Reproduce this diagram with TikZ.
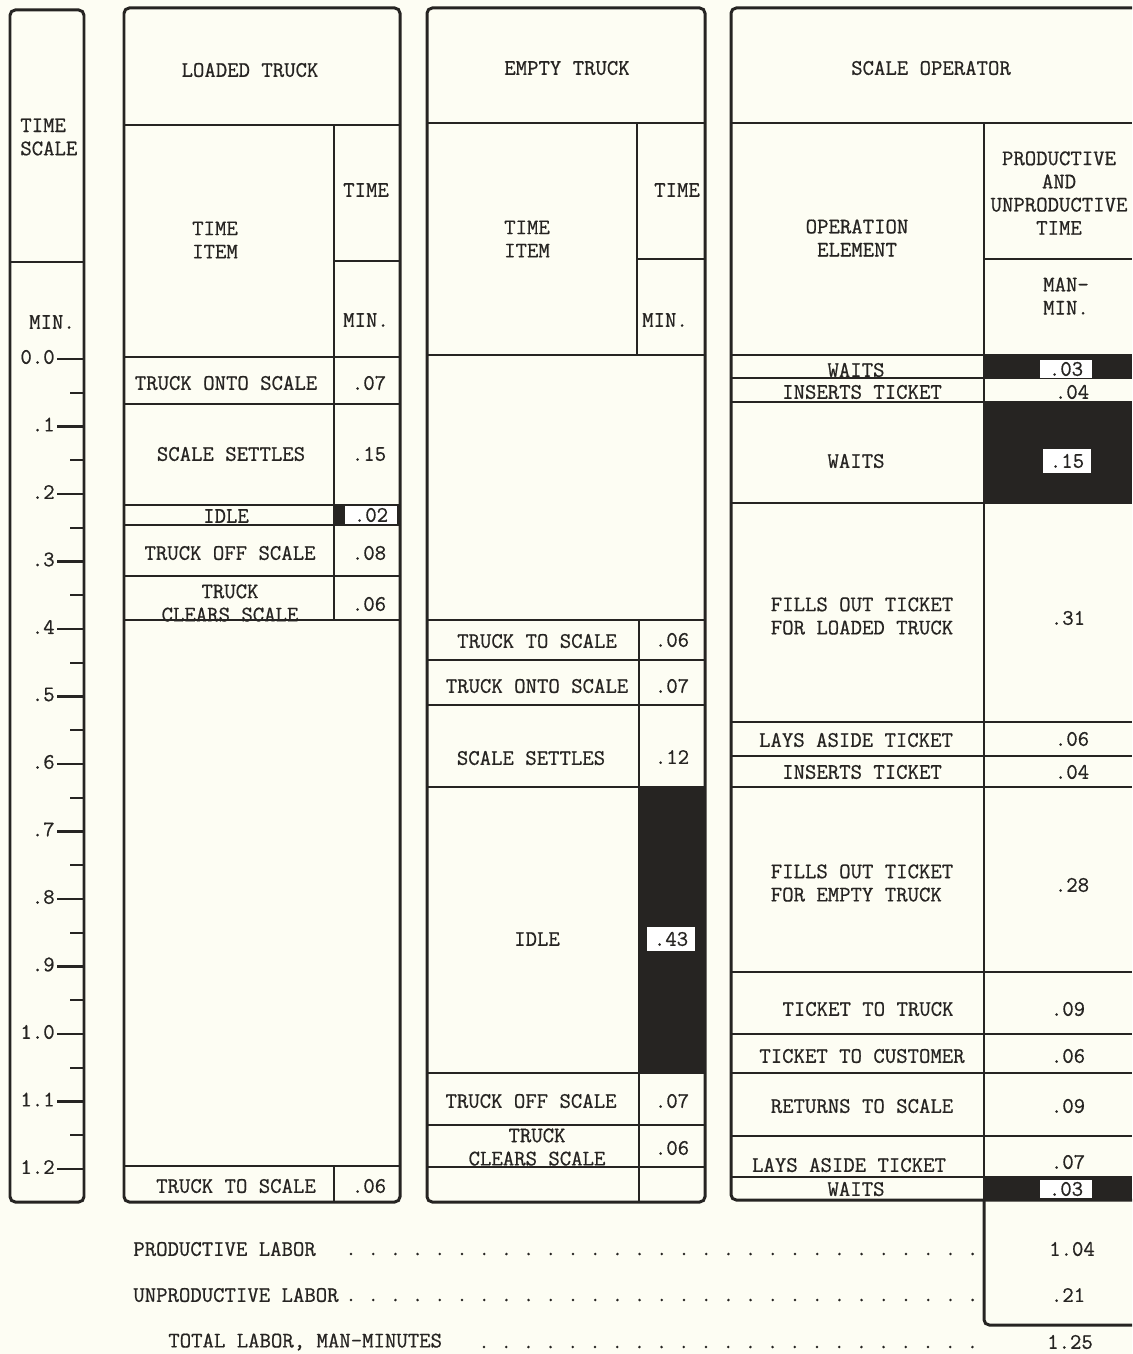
\documentclass[tikz,border=0pt]{standalone}
\usepackage{fontspec}
\usepackage{tikz}
\newfontfamily\typew{Latin Modern Mono}[FakeBold=0.7]
\definecolor{paper}{RGB}{253,253,243}
\definecolor{ink}{RGB}{38,36,34}

\begin{document}
\begin{tikzpicture}[x=0.02cm,y=-0.02cm,
  frame/.style={draw=ink,line width=1.7pt,rounded corners=3pt},
  rule/.style={draw=ink,line width=1.5pt},
  tick/.style={draw=ink,line width=1.3pt},
  txt/.style={font=\fontsize{12.6}{13.2}\selectfont\typew,text=ink,
              align=center,inner sep=0pt},
  val/.style={txt,fill=white,inner xsep=4pt,inner ysep=3pt},
  blk/.style={fill=ink}]

\fill[paper] (0,0) rectangle (1132,1354);
\useasboundingbox (0,0) rectangle (1132,1354);

% ------------- time scale -------------
\draw[frame] (10,10) rectangle (84,1202);
\draw[rule] (10,262) -- (84,262);
\node[txt,align=left,anchor=west] (tsh) at (20,137) {TIME\\SCALE};
\node[txt] (tsu) at (52,322) {MIN.};
\foreach \i/\t in {0/0.0,1/.1,2/.2,3/.3,4/.4,5/.5,6/.6,7/.7,8/.8,9/.9,
                   10/1.0,11/1.1,12/1.2} {
  \draw[tick] (57,{359+67.5*\i}) -- (84,{359+67.5*\i});
  \node[txt,anchor=east] (ts\i) at (55,{357+67.5*\i}) {\t};
}
\foreach \i in {0,...,11}
  \draw[tick] (70,{392.75+67.5*\i}) -- (84,{392.75+67.5*\i});

% ------------- loaded truck -------------
\fill[blk] (334,505) rectangle (400,525);
\draw[frame] (124,8) rectangle (400,1202);
\draw[rule] (124,125) -- (400,125);
\draw[rule] (334,125) -- (334,357);
\draw[rule] (334,261) -- (400,261);
\foreach \y in {357,404,505,525,576,620,1166}
  \draw[rule] (124,\y) -- (400,\y);
\draw[rule] (334,357) -- (334,620);
\draw[rule] (334,1166) -- (334,1202);
\node[txt] (lth) at (250,70) {LOADED TRUCK};
\node[txt] (lti) at (215,240) {TIME\\ITEM};
\node[txt] (ltt) at (366,190) {TIME};
\node[txt] (ltm) at (366,320) {MIN.};
\node[txt] (lt1) at (226,383) {TRUCK ONTO SCALE};
\node[txt] (lt1v) at (369,383) {.07};
\node[txt] (lt2) at (231,454) {SCALE SETTLES};
\node[txt] (lt2v) at (369,454) {.15};
\node[txt] (lt3) at (226,516) {IDLE};
\node[val,inner ysep=1pt,inner xsep=5pt] (lt3v) at (371,515) {.02};
\node[txt] (lt4) at (230,553) {TRUCK OFF SCALE};
\node[txt] (lt4v) at (369,553) {.08};
\node[txt] (lt5) at (230,603) {TRUCK\\CLEARS SCALE};
\node[txt] (lt5v) at (369,604) {.06};
\node[txt] (lt6) at (236,1186) {TRUCK TO SCALE};
\node[txt] (lt6v) at (369,1186) {.06};

% ------------- empty truck -------------
\fill[blk] (639,787) rectangle (705,1073);
\draw[frame] (427,8) rectangle (705,1202);
\draw[rule] (427,123) -- (705,123);
\draw[rule] (637,123) -- (637,355);
\draw[rule] (637,259) -- (705,259);
\foreach \y in {355,620,660,705,787,1073,1125,1167}
  \draw[rule] (427,\y) -- (705,\y);
\draw[rule] (639,620) -- (639,1202);
\node[txt] (eth) at (567,68) {EMPTY TRUCK};
\node[txt] (eti) at (527,239) {TIME\\ITEM};
\node[txt] (ett) at (677,190) {TIME};
\node[txt] (etm) at (665,320) {MIN.};
\node[txt] (et1) at (537,641) {TRUCK TO SCALE};
\node[txt] (et1v) at (672,640) {.06};
\node[txt] (et2) at (537,686) {TRUCK ONTO SCALE};
\node[txt] (et2v) at (672,686) {.07};
\node[txt] (et3) at (531,758) {SCALE SETTLES};
\node[txt] (et3v) at (672,757) {.12};
\node[txt] (et4) at (537,939) {IDLE};
\node[val] (et4v) at (671,939) {.43};
\node[txt] (et5) at (531,1101) {TRUCK OFF SCALE};
\node[txt] (et5v) at (672,1101) {.07};
\node[txt] (et6) at (537,1147) {TRUCK\\CLEARS SCALE};
\node[txt] (et6v) at (672,1148) {.06};

% ------------- scale operator -------------
\fill[blk] (984,355) rectangle (1132,378);
\fill[blk] (984,402) rectangle (1132,503);
\fill[blk] (984,1177) rectangle (1132,1200);
\draw[frame] (1132,8) -- (731,8) -- (731,1200) -- (1132,1200);
\draw[frame] (984,1200) -- (984,1325) -- (1132,1325);
\draw[rule] (731,123) -- (1132,123);
\draw[rule] (984,123) -- (984,1200);
\draw[rule] (984,259) -- (1132,259);
\foreach \y in {355,378,402,503,722,756,787,972,1034,1073,1136,1177}
  \draw[rule] (731,\y) -- (1132,\y);
\node[txt] (soh) at (931,68) {SCALE OPERATOR};
\node[txt] (soe) at (857,238) {OPERATION\\ELEMENT};
\node[txt] (sot) at (1059,193) {PRODUCTIVE\\AND\\UNPRODUCTIVE\\TIME};
\node[txt] (som) at (1066,296) {MAN-\\MIN.};
\node[txt] (so1) at (856,370) {WAITS};
\node[val,inner ysep=1pt,inner xsep=5pt] (so1v) at (1066,369) {.03};
\node[txt] (so2) at (862,392) {INSERTS TICKET};
\node[txt] (so2v) at (1072,392) {.04};
\node[txt] (so3) at (856,461) {WAITS};
\node[val] (so3v) at (1067,461) {.15};
\node[txt,align=left] (so4) at (862,616) {FILLS OUT TICKET\\FOR LOADED TRUCK};
\node[txt] (so4v) at (1068,618) {.31};
\node[txt] (so5) at (856,740) {LAYS ASIDE TICKET};
\node[txt] (so5v) at (1072,739) {.06};
\node[txt] (so6) at (862,772) {INSERTS TICKET};
\node[txt] (so6v) at (1072,772) {.04};
\node[txt,align=left] (so7) at (862,883) {FILLS OUT TICKET\\FOR EMPTY TRUCK};
\node[txt] (so7v) at (1072,885) {.28};
\node[txt] (so8) at (868,1009) {TICKET TO TRUCK};
\node[txt] (so8v) at (1068,1009) {.09};
\node[txt] (so9) at (862,1056) {TICKET TO CUSTOMER};
\node[txt] (so9v) at (1068,1056) {.06};
\node[txt] (so10) at (862,1106) {RETURNS TO SCALE};
\node[txt] (so10v) at (1068,1106) {.09};
\node[txt] (so11) at (849,1165) {LAYS ASIDE TICKET};
\node[txt] (so11v) at (1068,1162) {.07};
\node[txt] (so12) at (856,1189) {WAITS};
\node[val,inner ysep=1pt,inner xsep=5pt] (so12v) at (1066,1189) {.03};

% ------------- totals -------------
\node[txt,anchor=west] (prl) at (133,1249) {PRODUCTIVE LABOR};
\node[txt,anchor=west] (upl) at (133,1295) {UNPRODUCTIVE LABOR};
\node[txt,anchor=west] (tol) at (168,1342) {TOTAL LABOR, MAN-MINUTES};
\node[txt] (prv) at (1072,1249) {1.04};
\node[txt] (upv) at (1068,1295) {.21};
\node[txt] (tov) at (1070,1342) {1.25};
\foreach \k in {0,...,28} {
  \fill[ink] ({351+22.2*\k},1254) circle (1.4);
  \fill[ink] ({351+22.2*\k},1300) circle (1.4);
}
\foreach \k in {0,...,22}
  \fill[ink] ({484+22.2*\k},1347) circle (1.4);

\end{tikzpicture}
\end{document}
